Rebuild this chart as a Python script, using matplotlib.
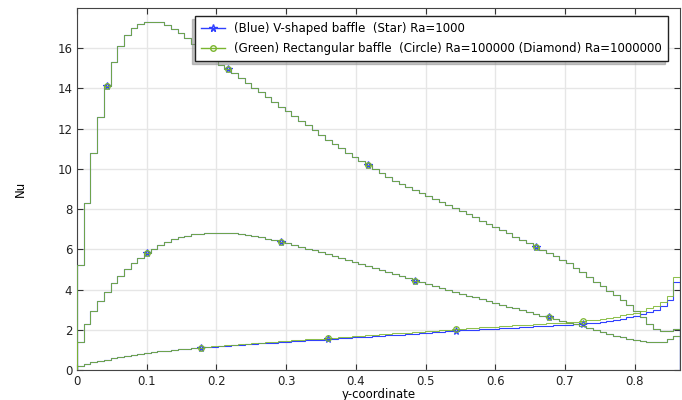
import numpy as np
import matplotlib.pyplot as plt
from matplotlib.lines import Line2D

# step cells along the y-coordinate (90 cells from 0 to 0.865)
x_max = 0.865
n_cells = 90

# Ra = 1000000
blue_ra1e6 = [5.2, 8.3, 10.8, 12.6, 14.1, 15.3, 16.1, 16.65, 17.0, 17.2,
              17.3, 17.32, 17.28, 17.15, 16.98, 16.75, 16.5, 16.22, 15.95, 15.68,
              15.42, 15.18, 14.96, 14.75, 14.52, 14.28, 14.03, 13.8, 13.57, 13.33,
              13.1, 12.87, 12.64, 12.4, 12.17, 11.94, 11.7, 11.46, 11.24, 11.02,
              10.8, 10.58, 10.37, 10.17, 9.97, 9.78, 9.6, 9.42, 9.24, 9.1,
              8.95, 8.8, 8.65, 8.5, 8.35, 8.2, 8.05, 7.9, 7.75, 7.59,
              7.43, 7.27, 7.11, 6.95, 6.79, 6.62, 6.46, 6.3, 6.13, 5.96,
              5.82, 5.65, 5.48, 5.3, 5.08, 4.86, 4.63, 4.4, 4.17, 3.95,
              3.72, 3.48, 3.22, 2.95, 2.65, 2.3, 2.05, 1.94, 1.95, 2.05]
green_ra1e6 = list(blue_ra1e6)

# Ra = 100000
blue_ra1e5 = [1.41, 2.29, 2.93, 3.45, 3.9, 4.31, 4.68, 5.01, 5.31, 5.59,
              5.84, 6.02, 6.22, 6.38, 6.5, 6.6, 6.68, 6.74, 6.78, 6.81,
              6.83, 6.83, 6.82, 6.8, 6.76, 6.72, 6.66, 6.6, 6.53, 6.45,
              6.37, 6.3, 6.22, 6.13, 6.04, 5.95, 5.85, 5.75, 5.65, 5.55,
              5.45, 5.35, 5.25, 5.15, 5.05, 4.95, 4.85, 4.75, 4.65, 4.55,
              4.45, 4.36, 4.26, 4.17, 4.07, 3.98, 3.88, 3.79, 3.7, 3.61,
              3.51, 3.42, 3.33, 3.24, 3.15, 3.06, 2.97, 2.88, 2.79, 2.7,
              2.62, 2.53, 2.44, 2.36, 2.27, 2.18, 2.09, 2.0, 1.9, 1.8,
              1.71, 1.63, 1.56, 1.5, 1.45, 1.41, 1.38, 1.4, 1.55, 1.7]
green_ra1e5 = list(blue_ra1e5)

# Ra = 1000
blue_ra1e3 = [0.22, 0.31, 0.39, 0.46, 0.52, 0.58, 0.64, 0.7, 0.75, 0.8,
              0.85, 0.89, 0.93, 0.96, 0.99, 1.02, 1.05, 1.08, 1.11, 1.13,
              1.16, 1.18, 1.2, 1.23, 1.25, 1.27, 1.3, 1.32, 1.34, 1.36,
              1.38, 1.41, 1.43, 1.45, 1.47, 1.49, 1.51, 1.54, 1.56, 1.58,
              1.6, 1.62, 1.64, 1.66, 1.68, 1.7, 1.72, 1.74, 1.76, 1.78,
              1.8, 1.82, 1.85, 1.87, 1.9, 1.92, 1.95, 1.97, 1.99, 2.01,
              2.03, 2.04, 2.06, 2.08, 2.1, 2.11, 2.13, 2.15, 2.17, 2.19,
              2.2, 2.22, 2.24, 2.26, 2.28, 2.3, 2.33, 2.36, 2.4, 2.44,
              2.5, 2.56, 2.63, 2.7, 2.8, 2.9, 3.0, 3.2, 3.5, 4.4]
green_ra1e3 = [0.22, 0.31, 0.39, 0.46, 0.52, 0.58, 0.64, 0.7, 0.75, 0.8,
               0.85, 0.89, 0.93, 0.96, 0.99, 1.02, 1.05, 1.08, 1.11, 1.14,
               1.17, 1.19, 1.22, 1.25, 1.27, 1.3, 1.33, 1.35, 1.37, 1.4,
               1.42, 1.45, 1.47, 1.49, 1.52, 1.54, 1.56, 1.59, 1.61, 1.64,
               1.66, 1.68, 1.7, 1.73, 1.75, 1.77, 1.8, 1.82, 1.84, 1.86,
               1.89, 1.91, 1.94, 1.96, 1.99, 2.01, 2.04, 2.06, 2.08, 2.1,
               2.12, 2.14, 2.16, 2.18, 2.2, 2.22, 2.24, 2.26, 2.28, 2.3,
               2.32, 2.34, 2.36, 2.38, 2.41, 2.44, 2.47, 2.51, 2.55, 2.6,
               2.65, 2.71, 2.77, 2.84, 2.95, 3.08, 3.18, 3.4, 3.7, 4.6]

# cells that carry a marker
marks_ra1e6 = [4, 22, 43, 68]
marks_ra1e5 = [10, 30, 50, 70]
marks_ra1e3 = [18, 37, 56, 75]

blue = '#3040ff'
green = '#7ab52e'

edges = np.linspace(0, x_max, n_cells + 1)
centers = 0.5 * (edges[:-1] + edges[1:])

plt.rcParams['font.family'] = 'DejaVu Sans'
plt.rcParams['font.size'] = 8.5

fig = plt.figure(figsize=(6.82, 4.0), dpi=100)
ax = fig.add_axes([0.113, 0.075, 0.884, 0.905])

for vals, marks in [(blue_ra1e6, marks_ra1e6), (blue_ra1e5, marks_ra1e5), (blue_ra1e3, marks_ra1e3)]:
    v = np.array(vals)
    ax.stairs(v, edges, color=blue, lw=0.8, zorder=3)
    ax.plot(centers[marks], v[marks], ls='none', marker='*', ms=5.5, mfc='none',
            mec=blue, mew=0.9, zorder=4)

for vals, marks in [(green_ra1e6, marks_ra1e6), (green_ra1e5, marks_ra1e5), (green_ra1e3, marks_ra1e3)]:
    v = np.array(vals)
    ax.stairs(v, edges, color=green, lw=0.75, alpha=0.85, zorder=5)
    ax.plot(centers[marks], v[marks], ls='none', marker='o', ms=4, mfc='none',
            mec=green, mew=0.9, zorder=6)

ax.set_xlim(0, x_max)
ax.set_ylim(0, 18)
ax.set_xticks(np.arange(0, 0.81, 0.1))
ax.set_xticklabels(['0', '0.1', '0.2', '0.3', '0.4', '0.5', '0.6', '0.7', '0.8'])
ax.set_yticks(np.arange(0, 17, 2))
ax.grid(True, color='#e6e6e6', lw=1.0, zorder=0)
ax.set_axisbelow(True)
ax.tick_params(direction='in', top=True, right=True, length=4, colors='#333333',
               labelcolor='#222222')
for s in ax.spines.values():
    s.set_color('#444444')

ax.set_xlabel('y-coordinate', labelpad=0)
ax.set_ylabel('Nu', labelpad=22)

handles = [
    Line2D([], [], color=blue, lw=1.0, marker='*', ms=5.5, mfc='none', mec=blue),
    Line2D([], [], color=green, lw=1.0, marker='o', ms=4, mfc='none', mec=green),
]
labels = ['(Blue) V-shaped baffle  (Star) Ra=1000',
          '(Green) Rectangular baffle  (Circle) Ra=100000 (Diamond) Ra=1000000']
leg = ax.legend(handles, labels, loc='upper right', bbox_to_anchor=(0.988, 0.975),
                bbox_transform=fig.transFigure, fancybox=False, framealpha=1,
                edgecolor='#222222', shadow={'ox': -2.2, 'oy': -2.2, 'color': '0.55'},
                handlelength=2.0, borderpad=0.5, labelspacing=0.6, fontsize=8.5)
leg.get_frame().set_linewidth(1.0)

fig.savefig('out.png', dpi=100)
